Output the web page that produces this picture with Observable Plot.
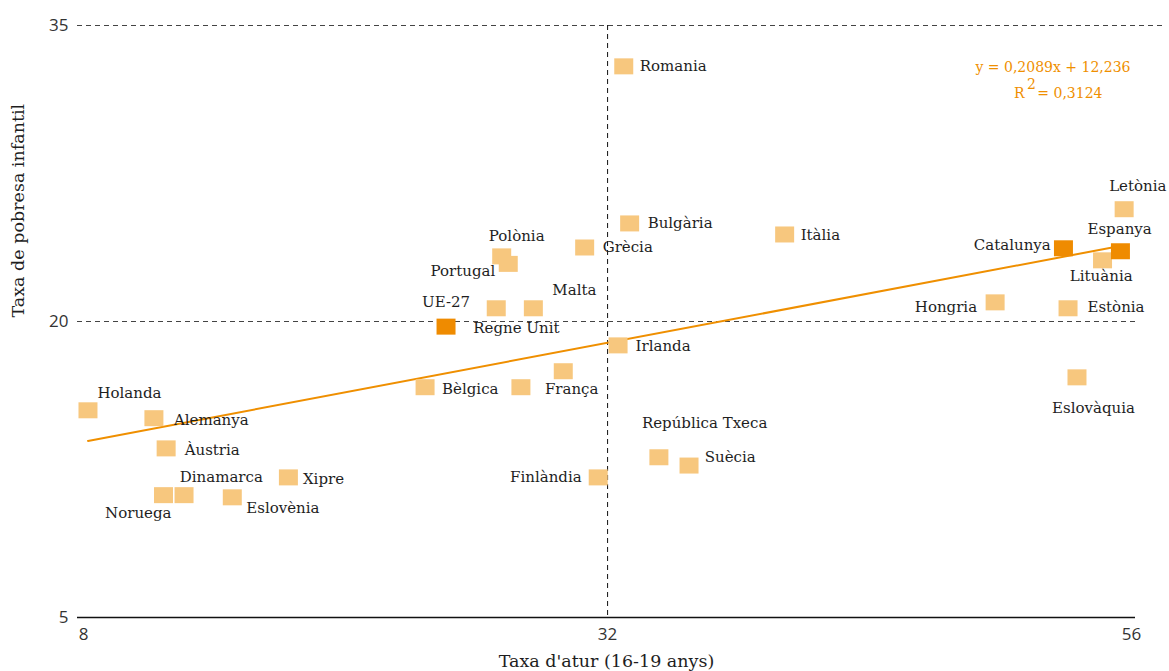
<!DOCTYPE html>
<html><head><meta charset="utf-8">
<script src="https://cdn.jsdelivr.net/npm/d3@7"></script>
<script src="https://cdn.jsdelivr.net/npm/@observablehq/plot@0.6"></script>
<style>body{margin:0;background:#fff}</style>
</head><body><div id="chart"></div>
<script>
// ---- data ----
const countries = ["Romania","Bulgària","Grècia","Itàlia","Polònia","Portugal","Regne Unit","Malta","UE-27","Irlanda","Bèlgica","França","Luxemburg","Holanda","Alemanya","Àustria","Noruega","Dinamarca","Eslovènia","Xipre","Finlàndia","República Txeca","Suècia","Hongria","Estònia","Eslovàquia","Catalunya","Espanya","Lituània","Letònia"];
const unemployment = [32.74,33.01,30.95,40.11,27.15,27.45,26.9,28.6,24.6,32.48,23.64,28.03,29.97,8.2,11.22,11.78,11.66,12.6,14.81,17.38,31.57,34.35,35.73,49.75,53.09,53.5,52.88,55.49,54.67,55.66];
const childPoverty = [32.93,24.97,23.75,24.41,23.30,22.92,20.67,20.67,19.74,18.79,16.67,16.67,17.48,15.5,15.1,13.57,11.2,11.2,11.09,12.1,12.1,13.12,12.7,20.97,20.67,17.17,23.71,23.56,23.1,25.69];
const highlighted = ["UE-27","Catalunya","Espanya"];
const unlabeled = ["Luxemburg"];
const xTicks = [8, 32, 56];
const yTicks = [5, 20, 35];
const slope = 0.2089, intercept = 12.236;
const equationText = "y = 0,2089x + 12,236";
const r2Text = "= 0,3124";
const xTitle = "Taxa d'atur (16-19 anys)";
const yTitle = "Taxa de pobresa infantil";

// ---- label layout (anchor, dx, dy in px) ----
const labelLayout = {
  "Romania":["start",16,0], "Bulgària":["start",18,0], "Grècia":["start",18,0], "Itàlia":["start",16,1],
  "Polònia":["middle",15,-20], "Portugal":["end",-13,7.5], "Regne Unit":["start",-23,19.5], "Malta":["middle",41,-18],
  "UE-27":["middle",0,-24.5], "Irlanda":["start",17.5,1], "Bèlgica":["start",17,2], "França":["start",24,2],
  "Holanda":["start",9.4,-17], "Alemanya":["start",20,1.5], "Àustria":["start",18.5,2], "Noruega":["end",8,18],
  "Dinamarca":["start",-4.3,-18], "Eslovènia":["start",14,11], "Xipre":["start",14.5,1.5], "Finlàndia":["end",-16.5,0],
  "República Txeca":["start",-17,-34], "Suècia":["start",15.7,-8], "Hongria":["end",-18,5], "Estònia":["start",19.4,-1],
  "Eslovàquia":["start",-25,30.5], "Catalunya":["end",-12.7,-3], "Espanya":["start",-33,-22.5], "Lituània":["start",-32.7,16],
  "Letònia":["start",-15,-23]
};

const rows = countries.map((c,i)=>({country:c, x:unemployment[i], y:childPoverty[i], hi:highlighted.includes(c)}));
const [xmin, xmax] = d3.extent(unemployment);
const trend = [xmin, xmax].map(x => ({x, y: slope*x + intercept}));

const rectSymbol = {draw(ctx){ ctx.rect(-9.5,-8,19,16); }};
const serif = "DejaVu Serif";
const LIGHT = "#f7c77e", DARK = "#ef8b00", ORANGE = "#ef8f00";

const labelMarks = rows.filter(r => !unlabeled.includes(r.country)).map(r => {
  const [a,dx,dy] = labelLayout[r.country];
  return Plot.text([r], {x:"x", y:"y", text:"country", textAnchor:a, dx, dy, fontFamily:serif, fontSize:15, fill:"#1e1e1e"});
});

const eqOpts = {frameAnchor:"top-right", lineAnchor:"middle", fontFamily:serif, fontSize:14, fill:ORANGE};

const plot = Plot.plot({
  width:1169, height:671,
  marginLeft:77, marginRight:34, marginTop:25, marginBottom:54,
  x:{domain:[7.72,56.18], ticks:xTicks},
  y:{domain:[5,35], ticks:yTicks},
  style:{fontFamily:"Open Sans", background:"#fff", color:"#333"},
  marks:[
    Plot.ruleY([20], {stroke:"#444", strokeDasharray:"5,4", strokeWidth:1}),
    Plot.ruleY([35], {x1:7.72, x2:57.45, stroke:"#444", strokeDasharray:"5,4", strokeWidth:1}),
    Plot.ruleX([32], {stroke:"#111", strokeDasharray:"5,4", strokeWidth:1}),
    Plot.ruleY([5], {stroke:"#111", strokeWidth:1.5}),
    Plot.axisX(xTicks, {tickSize:0, tickPadding:10, label:null, fontSize:17, fontFamily:"Open Sans", fill:"#333"}),
    Plot.axisY(yTicks, {tickSize:0, tickPadding:9, label:null, fontSize:17, fontFamily:"Open Sans", fill:"#333"}),
    Plot.line(trend, {x:"x", y:"y", stroke:ORANGE, strokeWidth:2}),
    Plot.dot(rows.filter(r=>!r.hi), {x:"x", y:"y", symbol:rectSymbol, fill:LIGHT, stroke:"none"}),
    Plot.dot(rows.filter(r=>r.hi), {x:"x", y:"y", symbol:rectSymbol, fill:DARK, stroke:"none"}),
    ...labelMarks,
    Plot.text([equationText], {...eqOpts, textAnchor:"end", dx:-5, dy:42.3}),
    Plot.text(["R"], {...eqOpts, textAnchor:"end", dx:-111, dy:68.3}),
    Plot.text(["2"], {...eqOpts, textAnchor:"middle", dx:-104, dy:59}),
    Plot.text([r2Text], {...eqOpts, textAnchor:"end", dx:-33, dy:68.3}),
    Plot.text([xTitle], {frameAnchor:"bottom", lineAnchor:"middle", dy:44, fontFamily:serif, fontSize:17.5, fill:"#1e1e1e"}),
    Plot.text([yTitle], {frameAnchor:"left", lineAnchor:"middle", rotate:-90, dx:-59, dy:-4, fontFamily:serif, fontSize:17.5, fill:"#1e1e1e"})
  ]
});
document.getElementById("chart").appendChild(plot);
</script>
</body></html>
